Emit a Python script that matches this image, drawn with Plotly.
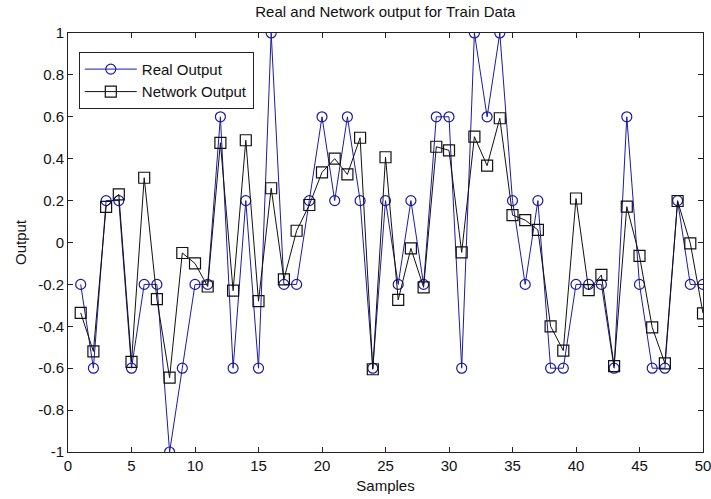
import plotly.graph_objects as go

samples = list(range(1, 51))
real_output = [-0.2, -0.6, 0.2, 0.2, -0.6, -0.2, -0.2, -1.0, -0.6, -0.2,
               -0.2, 0.6, -0.6, 0.2, -0.6, 1.0, -0.2, -0.2, 0.2, 0.6,
               0.2, 0.6, 0.2, -0.6, 0.2, -0.2, 0.2, -0.2, 0.6, 0.6,
               -0.6, 1.0, 0.6, 1.0, 0.2, -0.2, 0.2, -0.6, -0.6, -0.2,
               -0.2, -0.2, -0.6, 0.6, -0.2, -0.6, -0.6, 0.2, -0.2, -0.2]
network_output = [-0.336, -0.52, 0.17, 0.23, -0.57, 0.309, -0.27, -0.645, -0.05, -0.10,
                  -0.21, 0.476, -0.23, 0.488, -0.28, 0.259, -0.176, 0.056, 0.179, 0.335,
                  0.40, 0.325, 0.50, -0.605, 0.407, -0.274, -0.028, -0.214, 0.457, 0.44,
                  -0.047, 0.505, 0.367, 0.593, 0.131, 0.107, 0.06, -0.40, -0.516, 0.21,
                  -0.227, -0.155, -0.59, 0.171, -0.064, -0.405, -0.577, 0.198, -0.004, -0.338]

x_ticks = [0, 5, 10, 15, 20, 25, 30, 35, 40, 45, 50]
y_ticks = [-1, -0.8, -0.6, -0.4, -0.2, 0, 0.2, 0.4, 0.6, 0.8, 1]
y_tick_text = ["-1", "-0.8", "-0.6", "-0.4", "-0.2", "0", "0.2", "0.4", "0.6", "0.8", "1"]

font_family = "Liberation Sans, Arial, sans-serif"
fs = 15

fig = go.Figure()
fig.add_trace(go.Scatter(
    x=samples, y=real_output, name="Real Output", mode="lines+markers",
    line=dict(color="#1a1aa8", width=1),
    marker=dict(symbol="circle-open", size=10, color="#1a1aa8", line=dict(width=1.2)),
))
fig.add_trace(go.Scatter(
    x=samples, y=network_output, name="Network Output", mode="lines+markers",
    line=dict(color="#111111", width=1),
    marker=dict(symbol="square-open", size=11, color="#111111", line=dict(width=1.2)),
))

axis_common = dict(
    showgrid=False, zeroline=False, showline=True, linecolor="#222222", linewidth=1,
    mirror="ticks", ticks="inside", ticklen=5, tickcolor="#222222",
    ticklabeloverflow="allow",
    tickfont=dict(family=font_family, size=fs, color="#111111"),
)

fig.update_layout(
    width=711, height=499,
    margin=dict(l=68, r=8, t=33, b=47, autoexpand=False),
    paper_bgcolor="white", plot_bgcolor="white",
    font=dict(family=font_family, size=fs, color="#111111"),
    title=dict(text="Real and Network output for Train Data", x=0.542, xanchor="center",
               y=0.976, yanchor="middle", font=dict(size=fs)),
    xaxis=dict(range=[0, 50], tickvals=x_ticks,
               title=dict(text="Samples", standoff=7, font=dict(size=fs)), **axis_common),
    yaxis=dict(range=[-1, 1], tickvals=y_ticks, ticktext=y_tick_text,
               title=dict(text="Output", standoff=7, font=dict(size=fs)), **axis_common),
    legend=dict(x=0.017, y=0.955, xanchor="left", yanchor="top",
                bordercolor="#222222", borderwidth=1, bgcolor="white",
                font=dict(size=fs), itemwidth=52, tracegroupgap=0),
    showlegend=True,
)

fig.write_html("out.html")
